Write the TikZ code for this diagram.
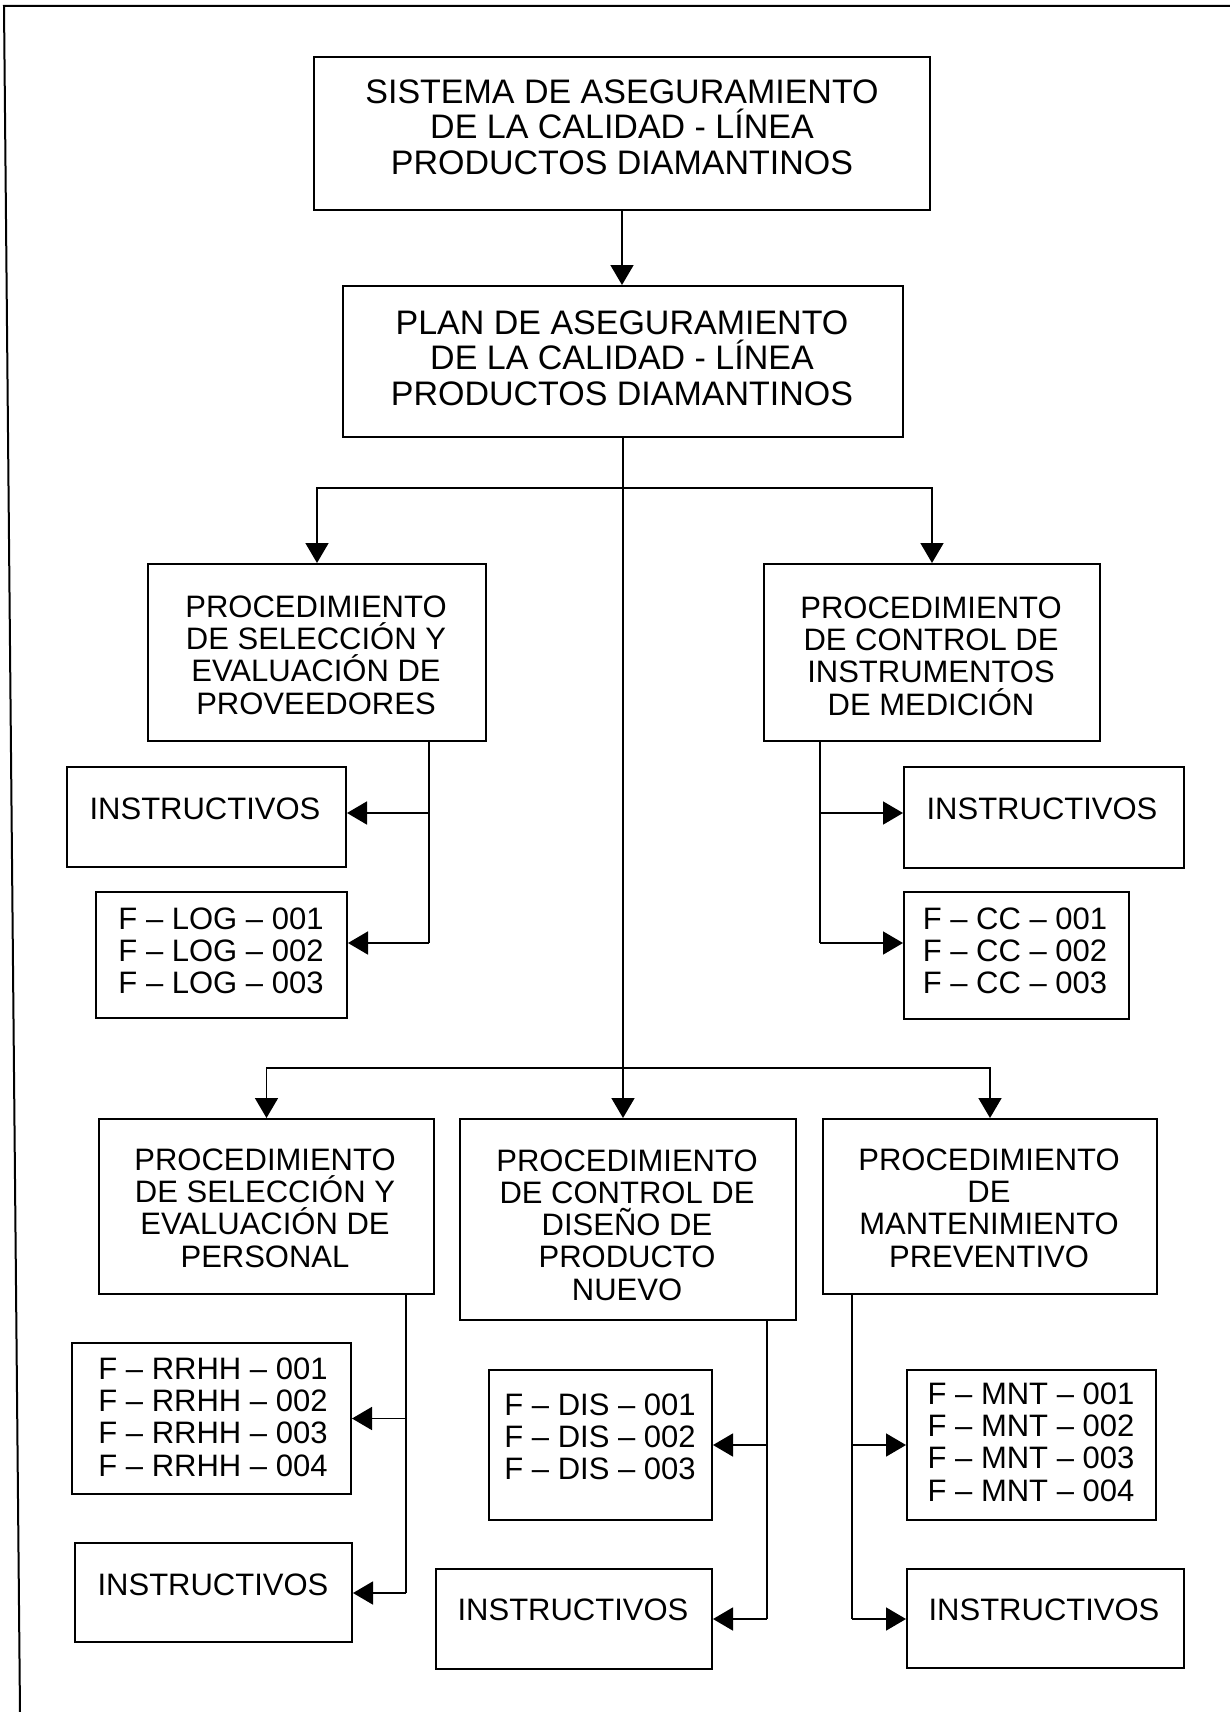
\documentclass[tikz,border=0pt]{standalone}
\usepackage{fontspec}
\setmainfont{Liberation Sans}
\usetikzlibrary{arrows.meta}
\begin{document}
\begin{tikzpicture}[x=0.5pt,y=-0.5pt,
  box/.style={draw, line width=1pt, inner sep=0pt},
  lbl/.style={align=center, inner sep=0pt, font=\fontsize{15.5pt}{16.15pt}\selectfont},
  lblbig/.style={lbl, font=\fontsize{17pt}{17.75pt}\selectfont},
  link/.style={line width=0.85pt},
  arr/.style={link, -{Triangle[width=11.5pt,length=10pt]}},
]
\useasboundingbox (0,0) rectangle (1230,1712);

% frame (top and left edges)
\coordinate (fa) at (1230,6);
\coordinate (fb) at (4,6);
\coordinate (fc) at (20,1712);
\draw[line width=1pt] (fa) -- (fb) -- (fc);

% boxes
\node[box, minimum width=308pt, minimum height=76.5pt] (sis) at (622,133.5) {};
\node[box, minimum width=280pt, minimum height=75.5pt] (plan) at (623,361.5) {};
\node[box, minimum width=169pt, minimum height=88.5pt] (prov) at (317,652.5) {};
\node[box, minimum width=168pt, minimum height=88.5pt] (inst) at (932,652.5) {};
\node[box, minimum width=139.5pt, minimum height=50pt] (insA) at (206.5,817) {};
\node[box, minimum width=125.5pt, minimum height=63pt] (log) at (221.5,955) {};
\node[box, minimum width=140pt, minimum height=50.5pt] (insB) at (1044,817.5) {};
\node[box, minimum width=112.5pt, minimum height=63.5pt] (cc) at (1016.5,955.5) {};
\node[box, minimum width=167.5pt, minimum height=87.5pt] (per) at (266.5,1206.5) {};
\node[box, minimum width=168pt, minimum height=100.5pt] (dis) at (628,1219.5) {};
\node[box, minimum width=167pt, minimum height=87.5pt] (mnt) at (990,1206.5) {};
\node[box, minimum width=139.5pt, minimum height=75.5pt] (rrhh) at (211.5,1418.5) {};
\node[box, minimum width=138.5pt, minimum height=49.5pt] (insC) at (213.5,1592.5) {};
\node[box, minimum width=111.5pt, minimum height=75pt] (disF) at (600.5,1445) {};
\node[box, minimum width=138pt, minimum height=50pt] (insD) at (574,1619) {};
\node[box, minimum width=124.5pt, minimum height=75pt] (mntF) at (1031.5,1445) {};
\node[box, minimum width=138.5pt, minimum height=49.5pt] (insE) at (1045.5,1618.5) {};

% labels
\node[lblbig] (sisT) at (622,127) {SISTEMA DE ASEGURAMIENTO\\DE LA CALIDAD - LÍNEA\\PRODUCTOS DIAMANTINOS};
\node[lblbig] (planT) at (622,358) {PLAN DE ASEGURAMIENTO\\DE LA CALIDAD - LÍNEA\\PRODUCTOS DIAMANTINOS};
\node[lbl] (provT) at (316,655) {PROCEDIMIENTO\\DE SELECCIÓN Y\\EVALUACIÓN DE\\PROVEEDORES};
\node[lbl] (instT) at (931,656) {PROCEDIMIENTO\\DE CONTROL DE\\INSTRUMENTOS\\DE MEDICIÓN};
\node[lbl] (insAT) at (205,809) {INSTRUCTIVOS};
\node[lbl] (logT) at (221,951) {F – LOG – 001\\F – LOG – 002\\F – LOG – 003};
\node[lbl] (insBT) at (1042,809) {INSTRUCTIVOS};
\node[lbl] (ccT) at (1015,951) {F – CC – 001\\F – CC – 002\\F – CC – 003};
\node[lbl] (perT) at (265,1208) {PROCEDIMIENTO\\DE SELECCIÓN Y\\EVALUACIÓN DE\\PERSONAL};
\node[lbl] (disT) at (627,1225) {PROCEDIMIENTO\\DE CONTROL DE\\DISEÑO DE\\PRODUCTO\\NUEVO};
\node[lbl] (mntT) at (989,1208) {PROCEDIMIENTO\\DE\\MANTENIMIENTO\\PREVENTIVO};
\node[lbl] (rrhhT) at (213,1417) {F – RRHH – 001\\F – RRHH – 002\\F – RRHH – 003\\F – RRHH – 004};
\node[lbl] (insCT) at (213,1585) {INSTRUCTIVOS};
\node[lbl] (disFT) at (600,1437) {F – DIS – 001\\F – DIS – 002\\F – DIS – 003};
\node[lbl] (insDT) at (573,1610) {INSTRUCTIVOS};
\node[lbl] (mntFT) at (1031,1442) {F – MNT – 001\\F – MNT – 002\\F – MNT – 003\\F – MNT – 004};
\node[lbl] (insET) at (1044,1610) {INSTRUCTIVOS};

% main trunk and branches
\coordinate (j1) at (623,488);
\coordinate (j2) at (623,1068);
\draw[arr] (sis.south) -- (sis.south |- plan.north);
\draw[arr] (plan.south) -- (plan.south |- dis.north);
\draw[arr] (j1) -| (prov.north);
\draw[arr] (j1) -| (inst.north);
\draw[arr] (j2) -| (per.north);
\draw[arr] (j2) -| (mnt.north);

% side feeders, upper row
\coordinate (xl) at (429,943);
\coordinate (xlu) at (429,813);
\draw[link] (prov.south -| xl) -- (xl);
\draw[arr] (xl) -- (xl -| log.east);
\draw[arr] (xlu) -- (xlu -| insA.east);
\coordinate (xr) at (820,943);
\coordinate (xru) at (820,813);
\draw[link] (inst.south -| xr) -- (xr);
\draw[arr] (xr) -- (xr -| cc.west);
\draw[arr] (xru) -- (xru -| insB.west);

% side feeders, lower row
\coordinate (bl) at (406,1593);
\draw[link] (per.south -| bl) -- (bl);
\draw[arr] (bl) -- (bl -| insC.east);
\draw[arr] (bl |- rrhh.east) -- (rrhh.east);
\coordinate (bm) at (767,1619);
\draw[link] (dis.south -| bm) -- (bm);
\draw[arr] (bm) -- (bm -| insD.east);
\draw[arr] (bm |- disF.east) -- (disF.east);
\coordinate (br) at (852,1619);
\draw[link] (mnt.south -| br) -- (br);
\draw[arr] (br) -- (br -| insE.west);
\draw[arr] (br |- mntF.west) -- (mntF.west);
\end{tikzpicture}
\end{document}
